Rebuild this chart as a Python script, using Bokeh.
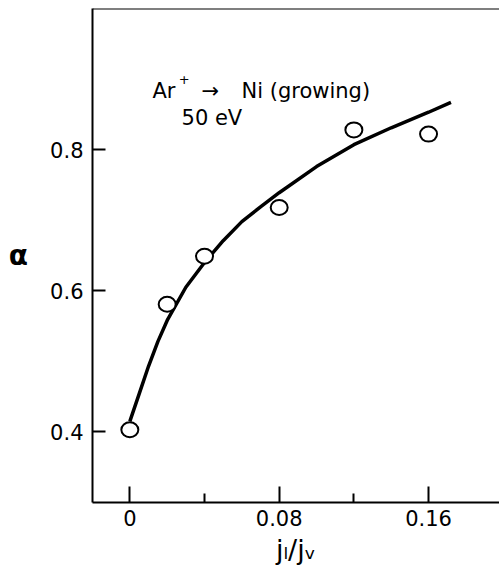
from bokeh.plotting import figure
from bokeh.models import FixedTicker, Span, Label, Range1d
from bokeh.embed import file_html
from bokeh.resources import INLINE

# measured points
x_pts = [0.0, 0.02, 0.04, 0.08, 0.12, 0.16]
alpha_pts = [0.403, 0.581, 0.649, 0.718, 0.828, 0.822]

# fitted curve
curve_x = [0.0, 0.005, 0.01, 0.015, 0.02, 0.03, 0.04, 0.05, 0.06, 0.07, 0.08,
           0.10, 0.12, 0.14, 0.16, 0.172]
curve_y = [0.415, 0.454, 0.493, 0.528, 0.558, 0.605, 0.640, 0.671, 0.698, 0.719, 0.739,
           0.776, 0.807, 0.831, 0.853, 0.867]

x_ticks = [0.0, 0.08, 0.16]
x_minor = [0.04, 0.12]
x_tick_labels = ["0", "0.08", "0.16"]
y_ticks = [0.4, 0.6, 0.8]
y_tick_labels = ["0.4", "0.6", "0.8"]

FONT = "DejaVu Sans"

p = figure(width=499, height=573, output_backend="svg", toolbar_location=None,
           x_range=Range1d(-0.02, 0.198), y_range=Range1d(0.3, 1.0),
           min_border_left=92, min_border_right=0, min_border_top=8, min_border_bottom=71)
p.outline_line_color = None
p.grid.visible = False
p.background_fill_color = "white"
p.border_fill_color = "white"

xa = p.xaxis[0]
xa.ticker = FixedTicker(ticks=x_ticks, minor_ticks=x_minor)
xa.major_label_overrides = {t: l for t, l in zip(x_ticks, x_tick_labels)}
xa.major_tick_in = 16
xa.major_tick_out = 0
xa.minor_tick_in = 9
xa.minor_tick_out = 0
xa.axis_line_width = 2
xa.major_tick_line_width = 2
xa.minor_tick_line_width = 2
xa.major_label_standoff = 7
xa.major_label_text_font = FONT
xa.major_label_text_font_size = "21px"
xa.major_label_text_color = "black"
xa.axis_label = "j\u2097/j\u1d65"
xa.axis_label_text_font = FONT
xa.axis_label_text_font_size = "27px"
xa.axis_label_text_font_style = "normal"
xa.axis_label_text_color = "black"
xa.axis_label_standoff = 5

ya = p.yaxis[0]
ya.ticker = FixedTicker(ticks=y_ticks, minor_ticks=[])
ya.major_label_overrides = {t: l for t, l in zip(y_ticks, y_tick_labels)}
ya.major_tick_in = 13
ya.major_tick_out = 0
ya.minor_tick_line_color = None
ya.axis_line_width = 2
ya.major_tick_line_width = 2
ya.major_label_standoff = 9
ya.major_label_text_font = FONT
ya.major_label_text_font_size = "21px"
ya.major_label_text_color = "black"
ya.axis_label = "\u03b1"
ya.axis_label_orientation = "horizontal"
ya.axis_label_text_font = FONT
ya.axis_label_text_font_size = "28px"
ya.axis_label_text_font_style = "bold"
ya.axis_label_text_color = "black"
ya.axis_label_standoff = 19

# top frame line
p.add_layout(Span(location=1.0, dimension="width", line_color="black", line_width=2))

p.line(curve_x, curve_y, line_color="black", line_width=3.5)
p.ellipse(x_pts, alpha_pts, width=17, height=15, width_units="screen", height_units="screen",
          fill_color="white", line_color="black", line_width=2)

def lab(x, y, text, size="21px", style="normal", align="left", baseline="alphabetic"):
    p.add_layout(Label(x=x, y=y, text=text, text_font=FONT, text_font_size=size,
                       text_font_style=style, text_align=align, text_baseline=baseline,
                       text_color="black"))

# annotation
lab(0.0121, 0.883, "Ar")
lab(0.0262, 0.900, "+", size="13px")
lab(0.0384, 0.883, "\u2192")
lab(0.0598, 0.883, "Ni (growing)")
lab(0.0277, 0.845, "50 eV")

open("out.html", "w").write(file_html(p, INLINE))
